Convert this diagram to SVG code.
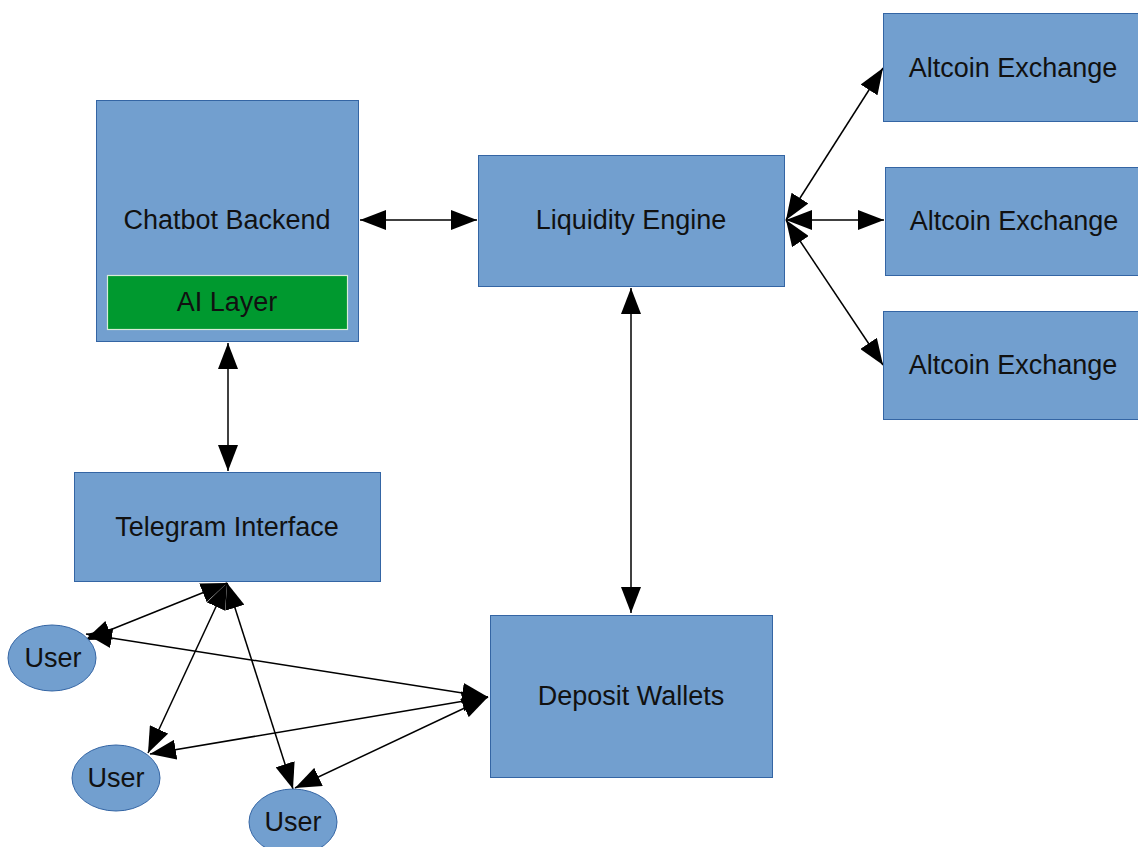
<svg xmlns="http://www.w3.org/2000/svg" width="1138" height="847" viewBox="0 0 1138 847">
<style>
.box{fill:#729fcf;stroke:#3465a4;stroke-width:1}
.ai{fill:#00992f;stroke:#d8ecd8;stroke-width:1.2}
.t{font-family:"Liberation Sans",Arial,sans-serif;font-size:27px;fill:#111;text-anchor:middle;dominant-baseline:central}
.c{stroke:#000;stroke-width:1.5;fill:none;marker-start:url(#ah);marker-end:url(#ah)}
</style>
<defs>
<marker id="ah" markerUnits="userSpaceOnUse" markerWidth="26" markerHeight="20" refX="26" refY="10" orient="auto-start-reverse">
<path d="M0,0 L26,10 L0,20 z" fill="#000"/>
</marker>
</defs>
<rect width="1138" height="847" fill="#fff"/>
<g id="connectors">
<line class="c" x1="360" y1="220" x2="477" y2="220"/>
<line class="c" x1="228" y1="343" x2="228" y2="471"/>
<line class="c" x1="631" y1="288" x2="631" y2="613"/>
<line class="c" x1="786" y1="220" x2="883" y2="68"/>
<line class="c" x1="786" y1="220" x2="884" y2="220"/>
<line class="c" x1="786" y1="220" x2="883" y2="365"/>
<line class="c" x1="227" y1="583" x2="85" y2="640"/>
<line class="c" x1="227" y1="583" x2="148" y2="753"/>
<line class="c" x1="227" y1="583" x2="293" y2="789"/>
<line class="c" x1="488" y1="697" x2="86" y2="634"/>
<line class="c" x1="488" y1="697" x2="150" y2="754"/>
<line class="c" x1="488" y1="697" x2="295" y2="788"/>
</g>
<g id="chatbot">
<rect class="box" x="96.5" y="100.5" width="262" height="241"/>
<text class="t" x="227" y="220">Chatbot Backend</text>
</g>
<g id="ailayer">
<rect class="ai" x="107.5" y="275.5" width="240" height="54"/>
<text class="t" x="227" y="302">AI Layer</text>
</g>
<g id="liquidity">
<rect class="box" x="478.5" y="155.5" width="306" height="131"/>
<text class="t" x="631" y="220">Liquidity Engine</text>
</g>
<g id="altcoin1">
<rect class="box" x="883.5" y="13.5" width="260" height="108"/>
<text class="t" x="1013" y="68">Altcoin Exchange</text>
</g>
<g id="altcoin2">
<rect class="box" x="885.5" y="167.5" width="260" height="108"/>
<text class="t" x="1014" y="221">Altcoin Exchange</text>
</g>
<g id="altcoin3">
<rect class="box" x="883.5" y="311.5" width="260" height="108"/>
<text class="t" x="1013" y="365">Altcoin Exchange</text>
</g>
<g id="telegram">
<rect class="box" x="74.5" y="472.5" width="306" height="109"/>
<text class="t" x="227" y="527">Telegram Interface</text>
</g>
<g id="deposit">
<rect class="box" x="490.5" y="615.5" width="282" height="162"/>
<text class="t" x="631" y="696">Deposit Wallets</text>
</g>
<g id="user1">
<ellipse class="box" cx="52" cy="658" rx="44" ry="33"/>
<text class="t" x="53" y="658">User</text>
</g>
<g id="user2">
<ellipse class="box" cx="116" cy="778" rx="44" ry="33"/>
<text class="t" x="116" y="778">User</text>
</g>
<g id="user3">
<ellipse class="box" cx="293" cy="822" rx="44" ry="33"/>
<text class="t" x="293" y="822">User</text>
</g>
</svg>
